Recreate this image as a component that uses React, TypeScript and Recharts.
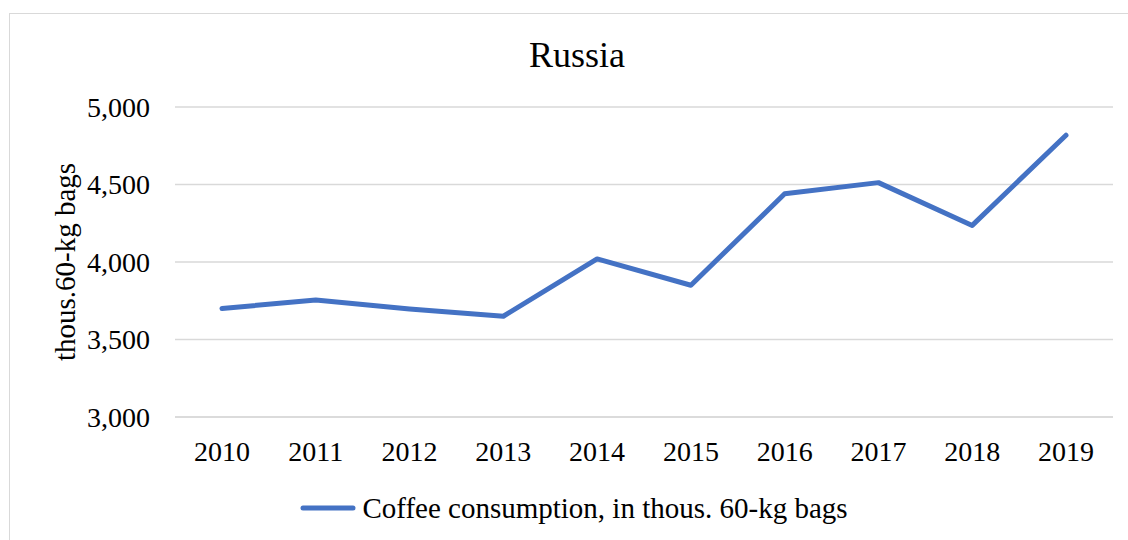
import { CartesianGrid, Legend, Line, LineChart, XAxis, YAxis } from "recharts";

const years = ["2010", "2011", "2012", "2013", "2014", "2015", "2016", "2017", "2018", "2019"];
const consumption = [3700, 3755, 3697, 3650, 4020, 3850, 4440, 4512, 4236, 4818];
const yTicks = [3000, 3500, 4000, 4500, 5000];

const seriesName = "Coffee consumption, in thous. 60-kg bags";
const font = "'Liberation Serif', 'Times New Roman', serif";

const data = years.map((year, i) => ({ year, value: consumption[i] }));

const LegendContent = () => (
  <div
    style={{
      display: "flex",
      alignItems: "center",
      justifyContent: "center",
      height: 30,
      fontFamily: font,
      fontSize: 29,
      color: "#000",
    }}
  >
    <svg width={58} height={10} style={{ marginRight: 4 }}>
      <line x1={3} y1={5} x2={53} y2={5} stroke="#4472C4" strokeWidth={5} strokeLinecap="round" />
    </svg>
    <span>{seriesName}</span>
  </div>
);

const App = () => {
  return (
    <>
      <style>{"body{margin:0;overflow:hidden}"}</style>
      <div
        style={{
          position: "absolute",
          left: 9,
          top: 13,
          width: 1119,
          height: 527,
          overflow: "hidden",
        }}
      >
        <div
          style={{
            position: "absolute",
            left: 0,
            top: 0,
            width: 1134,
            height: 540,
            border: "1px solid #d9d9d9",
            background: "#fff",
          }}
        >
          <div
            style={{
              position: "absolute",
              top: 22,
              left: 0,
              width: 1134,
              textAlign: "center",
              fontFamily: font,
              fontSize: 36,
              lineHeight: "38px",
              color: "#000",
            }}
          >
            Russia
          </div>
          <LineChart
            width={1134}
            height={540}
            data={data}
            margin={{ top: 93, right: 31, left: 25, bottom: 67 }}
          >
            <CartesianGrid vertical={false} stroke="#d9d9d9" strokeWidth={1.5} />
            <XAxis
              dataKey="year"
              height={40}
              padding={{ left: 47, right: 47 }}
              axisLine={{ stroke: "#d9d9d9", strokeWidth: 1.5 }}
              tickLine={false}
              tickSize={0}
              tickMargin={24}
              interval={0}
              tick={{ fill: "#000", fontSize: 28, fontFamily: font }}
            />
            <YAxis
              width={140}
              domain={[3000, 5000]}
              ticks={yTicks}
              axisLine={false}
              tickLine={false}
              tickSize={0}
              tickMargin={25}
              tickFormatter={(v: number) => v.toLocaleString("en-US")}
              tick={{ fill: "#000", fontSize: 28, fontFamily: font }}
              label={{
                value: "thous.60-kg bags",
                angle: -90,
                position: "center",
                dx: -40,
                style: { fill: "#000", fontSize: 29, fontFamily: font },
              }}
            />
            <Legend
              verticalAlign="bottom"
              height={30}
              content={<LegendContent />}
              wrapperStyle={{ bottom: 31 }}
            />
            <Line
              type="linear"
              dataKey="value"
              name={seriesName}
              stroke="#4472C4"
              strokeWidth={5}
              strokeLinecap="round"
              strokeLinejoin="round"
              dot={false}
              activeDot={false}
              isAnimationActive={false}
            />
          </LineChart>
        </div>
      </div>
    </>
  );
};

export default App;
